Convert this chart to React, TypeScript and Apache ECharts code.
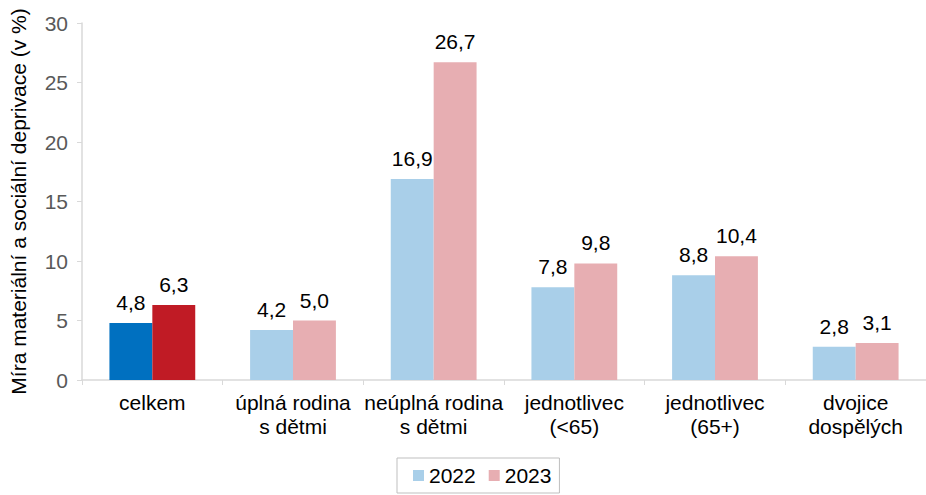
import React, { useEffect, useRef } from "react";
import * as echarts from "echarts";

const categories = [
  "celkem",
  "úplná rodina\ns dětmi",
  "neúplná rodina\ns dětmi",
  "jednotlivec\n(<65)",
  "jednotlivec\n(65+)",
  "dvojice\ndospělých",
];
const values2022 = [4.8, 4.2, 16.9, 7.8, 8.8, 2.8];
const values2023 = [6.3, 5.0, 26.7, 9.8, 10.4, 3.1];
const yTicks = { min: 0, max: 30, interval: 5 };
const axisTitle = "Míra materiální a sociální deprivace (v %)";

const FONT = "Liberation Sans, Arial, sans-serif";

export default function App() {
  const ref = useRef<HTMLDivElement>(null);
  useEffect(() => {
    const chart = echarts.init(ref.current!, null, { renderer: "svg" });
    const fmt = (p: any) => Number(p.value).toFixed(1).replace(".", ",");
    const label = {
      show: true,
      position: "top",
      distance: 10,
      formatter: fmt,
      fontSize: 21,
      fontFamily: FONT,
      color: "#000",
    };
    chart.setOption({
      animation: false,
      textStyle: { fontFamily: FONT },
      grid: { left: 81, top: 23, width: 851, height: 357 },
      legend: {
        bottom: 2,
        left: 397,
        itemWidth: 11,
        itemHeight: 11,
        itemGap: 13,
        padding: [7, 8, 7, 16],
        borderColor: "#bfbfbf",
        borderWidth: 1,
        icon: "rect",
        textStyle: { fontSize: 21, color: "#000", fontFamily: FONT },
        data: ["2022", "2023"],
      },
      xAxis: {
        type: "category",
        data: categories,
        axisLine: { lineStyle: { color: "#d9d9d9", width: 1.5 } },
        axisTick: { show: true, length: 5, lineStyle: { color: "#d9d9d9" } },
        axisLabel: {
          fontSize: 21,
          color: "#000",
          fontFamily: FONT,
          lineHeight: 24,
          margin: 10,
          interval: 0,
        },
      },
      yAxis: {
        type: "value",
        min: yTicks.min,
        max: yTicks.max,
        interval: yTicks.interval,
        name: axisTitle,
        nameLocation: "middle",
        nameGap: 53,
        nameTextStyle: { fontSize: 21, color: "#000", fontFamily: FONT },
        axisLine: { show: true, lineStyle: { color: "#d9d9d9", width: 1.5 } },
        axisTick: { show: true, length: 5, lineStyle: { color: "#d9d9d9" } },
        splitLine: { show: false },
        axisLabel: { fontSize: 21, color: "#595959", fontFamily: FONT, margin: 14 },
      },
      series: [
        {
          name: "2022",
          type: "bar",
          data: values2022.map((v, i) =>
            i === 0 ? { value: v, itemStyle: { color: "#0070c0" } } : v
          ),
          itemStyle: { color: "#a9cfe9" },
          barGap: "0%",
          barCategoryGap: "39%",
          label,
        },
        {
          name: "2023",
          type: "bar",
          data: values2023.map((v, i) =>
            i === 0 ? { value: v, itemStyle: { color: "#c01b25" } } : v
          ),
          itemStyle: { color: "#e7aeb2" },
          barGap: "0%",
          barCategoryGap: "39%",
          label,
        },
      ],
    });
    return () => chart.dispose();
  }, []);
  return (
    <div
      ref={ref}
      style={{ position: "fixed", left: 0, top: 0, width: 926, height: 495, background: "#fff" }}
    />
  );
}
